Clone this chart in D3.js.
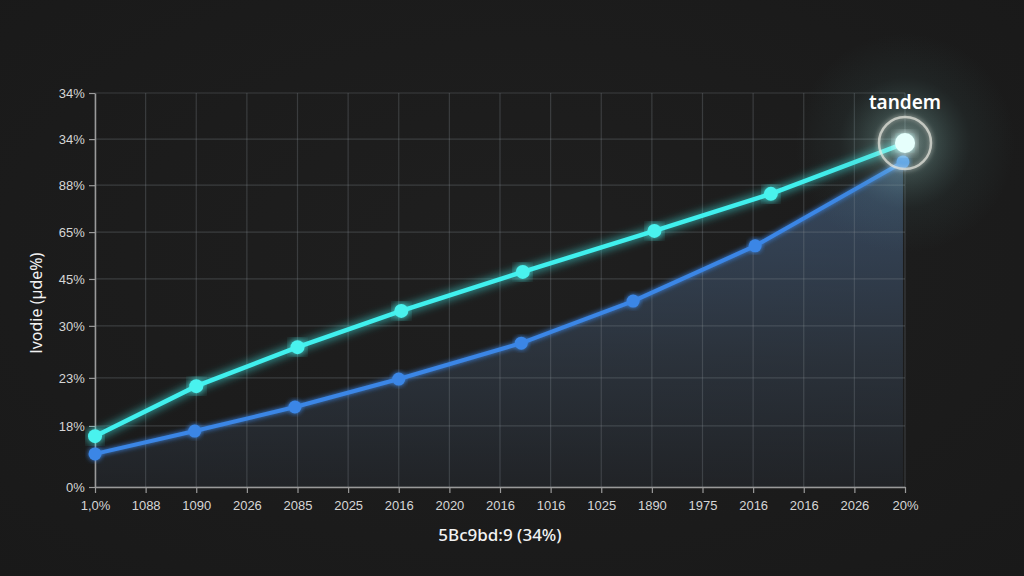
<!DOCTYPE html>
<html>
<head>
<meta charset="utf-8">
<script src="https://cdn.jsdelivr.net/npm/d3@7"></script>
<style>
  html, body { margin: 0; padding: 0; background: #1d1d1d; }
  svg { display: block; font-family: "Noto Sans", "Open Sans", sans-serif; }
</style>
</head>
<body>
<div id="chart"></div>
<script>
// tick labels (as printed on the picture)
var xLabels = ["1,0%", "1088", "1090", "2026", "2085", "2025", "2016", "2020", "2016",
               "1016", "1025", "1890", "1975", "2016", "2016", "2026", "20%"];
var yTickLabels = ["0%", "18%", "23%", "30%", "45%", "65%", "88%", "34%", "34%"];
var yTickValues = [0, 15.5, 27.7, 40.9, 52.8, 64.7, 76.6, 88.3, 100];

// series (x in tick-index units, y in 0-100 units)
var cyanX = [0, 2, 4, 6.05, 8.45, 11.05, 13.35, 16];
var cyanY = [12.9, 25.6, 35.5, 44.7, 54.6, 65.0, 74.4, 87.3];
var blueX = [0, 1.97, 3.95, 6.0, 8.42, 10.63, 13.04, 15.96];
var blueY = [8.4, 14.2, 20.3, 27.4, 36.5, 47.2, 61.2, 82.5];

var xTitle = "5Bc9bd:9 (34%)";
var yTitle = "lvodie (µde%)";
var calloutLabel = "tandem";

var width = 1024, height = 576;
var margin = { top: 93, right: 119, bottom: 89, left: 95 };
var innerW = width - margin.left - margin.right;
var innerH = height - margin.top - margin.bottom;

var svg = d3.select("#chart").append("svg")
    .attr("width", width)
    .attr("height", height);

var defs = svg.append("defs");

// background vignette
var bg = defs.append("radialGradient").attr("id", "bg")
    .attr("cx", "50%").attr("cy", "45%").attr("r", "75%");
bg.append("stop").attr("offset", "0%").attr("stop-color", "#1f1f1f");
bg.append("stop").attr("offset", "100%").attr("stop-color", "#191919");
svg.append("rect").attr("width", width).attr("height", height).attr("fill", "url(#bg)");

var areaGrad = defs.append("linearGradient").attr("id", "areaGrad")
    .attr("x1", 0).attr("y1", 0).attr("x2", 0).attr("y2", 1);
areaGrad.append("stop").attr("offset", "0%").attr("stop-color", "#4d6d96").attr("stop-opacity", 0.55);
areaGrad.append("stop").attr("offset", "60%").attr("stop-color", "#34404f").attr("stop-opacity", 0.6);
areaGrad.append("stop").attr("offset", "100%").attr("stop-color", "#24282e").attr("stop-opacity", 0.6);

var halo = defs.append("radialGradient").attr("id", "halo");
halo.append("stop").attr("offset", "0%").attr("stop-color", "#e0fff8").attr("stop-opacity", 0.55);
halo.append("stop").attr("offset", "25%").attr("stop-color", "#9fe0d8").attr("stop-opacity", 0.25);
halo.append("stop").attr("offset", "60%").attr("stop-color", "#5a9090").attr("stop-opacity", 0.08);
halo.append("stop").attr("offset", "100%").attr("stop-color", "#5a9090").attr("stop-opacity", 0);

var glow = defs.append("filter").attr("id", "glow")
    .attr("x", "-20%").attr("y", "-20%").attr("width", "140%").attr("height", "140%");
glow.append("feGaussianBlur").attr("stdDeviation", 5).attr("result", "b");
var gm = glow.append("feMerge");
gm.append("feMergeNode").attr("in", "b");
gm.append("feMergeNode").attr("in", "SourceGraphic");

var softGlow = defs.append("filter").attr("id", "softGlow")
    .attr("x", "-20%").attr("y", "-20%").attr("width", "140%").attr("height", "140%");
softGlow.append("feGaussianBlur").attr("stdDeviation", 2.5).attr("result", "b");
var sm = softGlow.append("feMerge");
sm.append("feMergeNode").attr("in", "b");
sm.append("feMergeNode").attr("in", "SourceGraphic");

var g = svg.append("g")
    .attr("transform", "translate(" + margin.left + "," + margin.top + ")");

var x = d3.scaleLinear().domain([0, xLabels.length - 1]).range([0, innerW]);
var y = d3.scaleLinear().domain([0, 100]).range([innerH, 0]);

var blueData = blueX.map(function(d, i) { return { x: d, y: blueY[i] }; });
var cyanData = cyanX.map(function(d, i) { return { x: d, y: cyanY[i] }; });

// area under the blue series
var area = d3.area()
    .x(function(d) { return x(d.x); })
    .y0(innerH)
    .y1(function(d) { return y(d.y); });
g.append("path").datum(blueData)
    .attr("d", area)
    .attr("fill", "url(#areaGrad)");

// grid
g.append("g").attr("class", "grid")
    .selectAll("line.v").data(d3.range(xLabels.length))
    .enter().append("line")
    .attr("x1", function(d) { return x(d); })
    .attr("x2", function(d) { return x(d); })
    .attr("y1", 0).attr("y2", innerH)
    .attr("stroke", "#8a8f96").attr("stroke-opacity", 0.28).attr("stroke-width", 1.2);
g.append("g").attr("class", "grid")
    .selectAll("line.h").data(yTickValues)
    .enter().append("line")
    .attr("x1", 0).attr("x2", innerW)
    .attr("y1", function(d) { return y(d); })
    .attr("y2", function(d) { return y(d); })
    .attr("stroke", "#8a8f96").attr("stroke-opacity", 0.28).attr("stroke-width", 1.2);

// axes
var xAxis = d3.axisBottom(x)
    .tickValues(d3.range(xLabels.length))
    .tickFormat(function(d) { return xLabels[d]; })
    .tickSize(6).tickSizeOuter(0);
var yAxis = d3.axisLeft(y)
    .tickValues(yTickValues)
    .tickFormat(function(d, i) { return yTickLabels[i]; })
    .tickSize(6).tickSizeOuter(0);

var gx = g.append("g").attr("transform", "translate(0," + innerH + ")").call(xAxis);
var gy = g.append("g").call(yAxis);
[gx, gy].forEach(function(ax) {
    ax.select(".domain").attr("stroke", "#9a9a9a").attr("stroke-width", 1.5);
    ax.selectAll(".tick line").attr("stroke", "#9a9a9a").attr("stroke-width", 1.2);
    ax.selectAll(".tick text").attr("fill", "#d6d6d6")
        .style("font-size", "13px");
});
gx.selectAll(".tick text").attr("dy", "1.05em");
gy.selectAll(".tick text").attr("dx", "-0.1em");

// lines
var line = d3.line()
    .x(function(d) { return x(d.x); })
    .y(function(d) { return y(d.y); });

g.append("path").datum(blueData)
    .attr("d", line)
    .attr("fill", "none")
    .attr("stroke", "#3b86e6")
    .attr("stroke-width", 4)
    .attr("filter", "url(#softGlow)");

g.selectAll("circle.blue").data(blueData)
    .enter().append("circle")
    .attr("class", "blue")
    .attr("cx", function(d) { return x(d.x); })
    .attr("cy", function(d) { return y(d.y); })
    .attr("r", 6.5)
    .attr("fill", "#3b86e6")
    .attr("filter", "url(#softGlow)");

g.append("path").datum(cyanData)
    .attr("d", line)
    .attr("fill", "none")
    .attr("stroke", "#3ff0ee")
    .attr("stroke-width", 4.5)
    .attr("filter", "url(#glow)");

g.selectAll("circle.cyan").data(cyanData)
    .enter().append("circle")
    .attr("class", "cyan")
    .attr("cx", function(d) { return x(d.x); })
    .attr("cy", function(d) { return y(d.y); })
    .attr("r", 7)
    .attr("fill", "#48f2ee")
    .attr("filter", "url(#glow)");

// highlighted end point
var last = cyanData[cyanData.length - 1];
var lx = x(last.x), ly = y(last.y);
g.append("circle").attr("cx", lx).attr("cy", ly).attr("r", 110).attr("fill", "url(#halo)");
g.append("circle").attr("cx", lx).attr("cy", ly).attr("r", 26)
    .attr("fill", "none").attr("stroke", "#e8e8e0").attr("stroke-opacity", 0.7)
    .attr("stroke-width", 2.5).attr("filter", "url(#softGlow)");
g.append("circle").attr("cx", lx).attr("cy", ly).attr("r", 10)
    .attr("fill", "#e6fffc").attr("filter", "url(#glow)");
g.append("text")
    .attr("x", lx).attr("y", ly - 34)
    .attr("text-anchor", "middle")
    .attr("fill", "#ffffff")
    .style("font-size", "19px")
    .style("font-weight", "600")
    .text(calloutLabel);

// axis titles
svg.append("text")
    .attr("x", margin.left + innerW / 2)
    .attr("y", 541)
    .attr("text-anchor", "middle")
    .attr("fill", "#f2f2f2")
    .style("font-size", "17px")
    .style("font-weight", "500")
    .text(xTitle);

svg.append("text")
    .attr("transform", "translate(42,303) rotate(-90)")
    .attr("text-anchor", "middle")
    .attr("fill", "#f2f2f2")
    .style("font-size", "16px")
    .text(yTitle);
</script>
</body>
</html>
